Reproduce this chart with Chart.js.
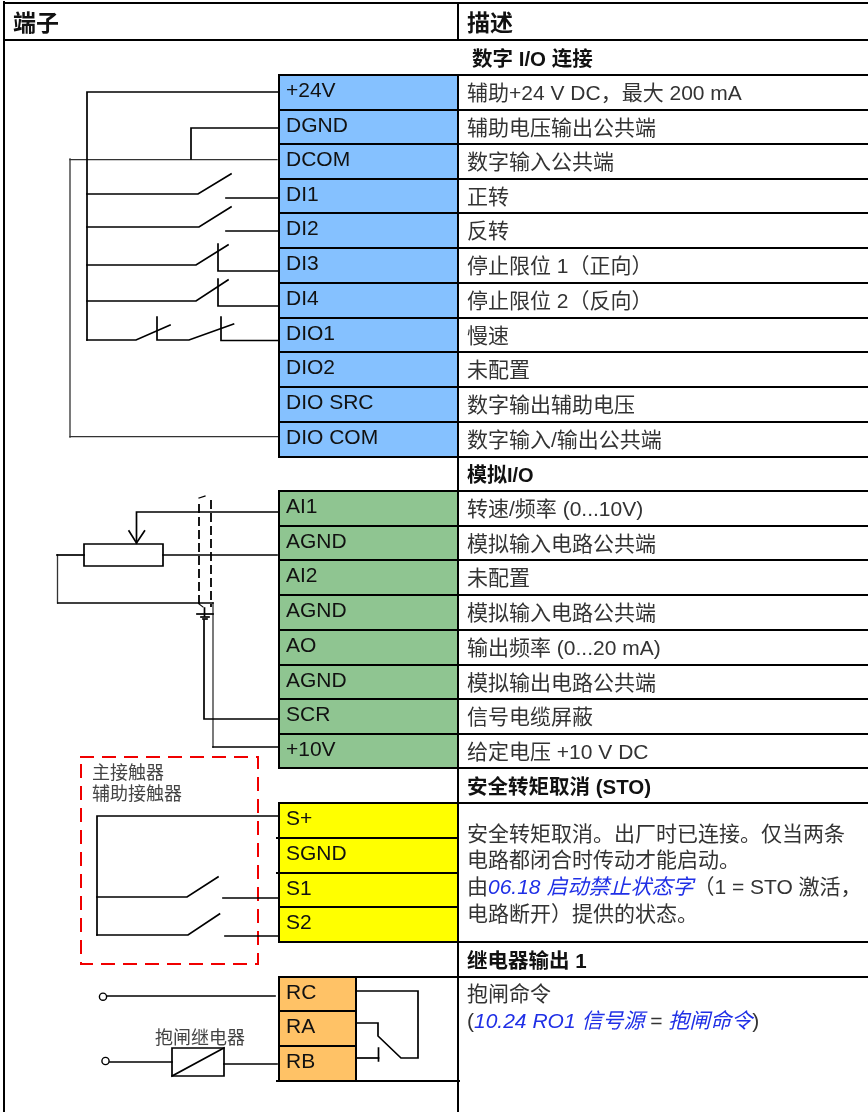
<!DOCTYPE html>
<html><head><meta charset="utf-8">
<script src="https://cdn.jsdelivr.net/npm/chart.js@4/dist/chart.umd.min.js"></script>
<style>html,body{margin:0;padding:0;background:#fff}canvas{display:block}</style>
</head><body><canvas id="c" width="868" height="1112"></canvas>
<script>
// ---- table content ----
const headers = ["端子", "描述"];
const sections = ["数字 I/O 连接", "模拟I/O", "安全转矩取消 (STO)", "继电器输出 1"];
const digitalTerminals = ["+24V","DGND","DCOM","DI1","DI2","DI3","DI4","DIO1","DIO2","DIO SRC","DIO COM"];
const digitalDescriptions = ["辅助+24 V DC，最大 200 mA","辅助电压输出公共端","数字输入公共端","正转","反转","停止限位 1（正向）","停止限位 2（反向）","慢速","未配置","数字输出辅助电压","数字输入/输出公共端"];
const analogTerminals = ["AI1","AGND","AI2","AGND","AO","AGND","SCR","+10V"];
const analogDescriptions = ["转速/频率 (0...10V)","模拟输入电路公共端","未配置","模拟输入电路公共端","输出频率 (0...20 mA)","模拟输出电路公共端","信号电缆屏蔽","给定电压 +10 V DC"];
const stoTerminals = ["S+","SGND","S1","S2"];
const relayTerminals = ["RC","RA","RB"];
const sideNotes = ["主接触器","辅助接触器","抱闸继电器"];

// ---- row boundaries along the vertical axis ----
const digitalRows = [75,110,144,179,213,248,283,318,352,387,422,457];
const analogRows = [491,526,560,595,630,665,699,734,768];
const stoRows = [803,838,873,907,942];
const relayRows = [977,1011,1046,1081];

// ---- wiring polylines, as [x,y,x,y,...] in diagram units ----
const wires = [
 [279,92,87,92,87,340],[279,128,191,128,191,159],
 [87,194,198,194,231,174],[226,198,279,198],
 [87,227,199,227,231,207],[226,231,279,231],
 [87,265,196,265,228,245],[218,244,218,271,279,271],
 [87,301,196,301,228,280],[218,279,218,306,279,306],
 [87,340,136,340,170,325],[157,317,157,340,189,340,233.5,324],[221,317,221,340.5,279,340.5],
 [279,512,136.5,512,136.5,543],[129,531,136.5,543,144.5,531],
 [84,544,163,544,163,566,84,566,84,544],[163,555,277,555],[84,555,57,555],
 [58,603,213,603],[213,747,279,747],
 [204,620,204,719,279,719],[204.5,608,204.5,616],[197,614,213,614],[201,617,209,617],[203,619,207,619],
 [279,816,97,816,97,935],[97,897,187,897,218,877],[223,898,279,898],[97,935,188,935,219.5,914],[225,936,279,936],
 [107,996,275,996],[110,1062,172,1062],[172,1048,224,1048,224,1076,172,1076,172,1048],[172,1076,224,1048],[224,1064,277,1064],
 [356,991,418,991,418,1058,401,1058,378,1036,378,1023,356,1023],[356,1058,378.5,1058],[378.5,1048,378.5,1061]
];
const thinWires = [[70,159.7,277,159.7],[70,159,70,437],[70,436.7,279,436.7],[57.5,555,57.5,603],[213,603,213,747]];
const shieldLines = [[199,505,199,606],[211,501,211,606]];
const shieldTicks = [[199,498,205,496],[199,604,203,607]];
const contactorBox = [81,757,258,757,258,964,81,964,81,757];
const terminalsOpen = [[103,996.7],[105.5,1061]];

// ---- table rules ----
const gridLines = [
 [4,3,868,3],[4,40,868,40],[4,2,4,1112],[458,3,458,40],[458,75,458,1112],
 ...digitalRows.map(y=>[279,y,868,y]),[279,75,279,457],
 ...analogRows.map(y=>[279,y,868,y]),[279,491,279,768],
 [279,803,868,803],[277,838,458,838],[277,873,458,873],[279,907,458,907],[279,942,868,942],[279,803,279,942],
 [279,977,868,977],[279,1011,356,1011],[279,1046,356,1046],[277,1081,459,1081],[279,977,279,1081],[356,977,356,1081]
];

const BLUE="#85c1ff",GREEN="#8fc591",YELLOW="#ffff00",ORANGE="#ffc266";
const toPts = a => { const p=[]; for(let i=0;i<a.length;i+=2) p.push({x:a[i],y:a[i+1]}); return p; };
const lineSet = (a,color,w,dash) => ({type:"scatter",showLine:true,data:toPts(a),borderColor:color,borderWidth:w,borderDash:dash||[],pointRadius:0,tension:0,order:1,clip:false,borderCapStyle:"square",borderJoinStyle:"miter"});
const cellSet = (rows,color,left,right) => ({type:"bar",order:5,backgroundColor:color,borderWidth:0,barThickness:right-left,clip:false,
  grouped:false,data:[{x:(left+right)/2,y:[rows[0],rows[rows.length-1]]}]});

const LATIN='"Liberation Sans"', CJK='"Noto Sans CJK SC"';
const f=(size,style)=>`${style||""} ${size}px ${LATIN},${CJK}`;
const INK="#333333", LINK="#1f2fe6";

const textPlugin={id:"tableText",afterDatasetsDraw(chart){
  const {ctx,scales:{x,y}}=chart;
  const put=(runs,px,py)=>{ let cx=x.getPixelForValue(px),cy=y.getPixelForValue(py);
    ctx.textBaseline="alphabetic";ctx.textAlign="left";
    for(const r of runs){ctx.font=r.font;ctx.fillStyle=r.color;ctx.fillText(r.t,cx,cy);cx+=ctx.measureText(r.t).width;} };
  const plain=(t,size,style,color)=>[{t,font:f(size,style),color:color||INK}];
  const rowText=(labels,rows,xp,size,color,off)=>labels.forEach((t,i)=>put(plain(t,size,"",color),xp,rows[i]+off));
  ctx.save();
  put(plain(headers[0],23,"bold","#111"),13,31);
  put(plain(headers[1],23,"bold","#111"),467,31);
  put(plain(sections[0],20.5,"bold","#111"),472,66);
  put(plain(sections[1],20,"bold","#111"),467,482);
  put(plain(sections[2],20.5,"bold","#111"),467,794);
  put(plain(sections[3],20.5,"bold","#111"),467,968);
  rowText(digitalTerminals,digitalRows,286,21,"#111",21.5);
  rowText(analogTerminals,analogRows,286,21,"#111",21.5);
  rowText(stoTerminals,stoRows,286,21,"#111",21.5);
  rowText(relayTerminals,relayRows,286,21,"#111",21.5);
  rowText(digitalDescriptions,digitalRows,467,21,INK,24.5);
  rowText(analogDescriptions,analogRows,467,21,INK,24.5);
  const n=21,b=f(n),it=f(n,"italic");
  put(plain("安全转矩取消。出厂时已连接。仅当两条",n),467,841);
  put(plain("电路都闭合时传动才能启动。",n),467,867);
  put([{t:"由",font:b,color:INK},{t:"06.18 启动禁止状态字",font:it,color:LINK},{t:"（1 = STO 激活，",font:b,color:INK}],467,894);
  put(plain("电路断开）提供的状态。",n),467,921);
  put(plain("抱闸命令",n),467,1001);
  put([{t:"(",font:b,color:INK},{t:"10.24 RO1 信号源",font:it,color:LINK},{t:" = ",font:b,color:INK},{t:"抱闸命令",font:it,color:LINK},{t:")",font:b,color:INK}],467,1028);
  put(plain(sideNotes[0],18,"","#444"),92,779);
  put(plain(sideNotes[1],18,"","#444"),92,800);
  put(plain(sideNotes[2],18,"","#444"),155,1044);
  ctx.restore();
}};

new Chart(document.getElementById("c"),{
  data:{datasets:[
    cellSet(digitalRows,BLUE,279,458),
    cellSet(analogRows,GREEN,279,458),
    cellSet(stoRows,YELLOW,279,458),
    cellSet(relayRows,ORANGE,279,356),
    ...gridLines.map(a=>lineSet(a,"#000",2)),
    ...wires.map(a=>lineSet(a,"#000",1.7)),
    ...thinWires.map(a=>lineSet(a,"#333",1.3)),
    ...shieldLines.map(a=>lineSet(a,"#000",1.8,[7,6])),
    ...shieldTicks.map(a=>lineSet(a,"#000",1.2)),
    lineSet(contactorBox,"#f00000",2,[12,10]),
    {type:"scatter",order:0,clip:false,data:terminalsOpen.map(p=>({x:p[0],y:p[1]})),pointRadius:3.6,pointBackgroundColor:"#fff",pointBorderColor:"#000",pointBorderWidth:1.4,showLine:false}
  ]},
  options:{responsive:false,animation:false,maintainAspectRatio:false,
    layout:{padding:0,autoPadding:false},events:[],
    plugins:{legend:{display:false},tooltip:{enabled:false},title:{display:false}},
    scales:{
      x:{type:"linear",min:0,max:868,display:false,offset:false},
      y:{type:"linear",min:0,max:1112,reverse:true,display:false}
    }},
  plugins:[textPlugin]
});
</script></body></html>
